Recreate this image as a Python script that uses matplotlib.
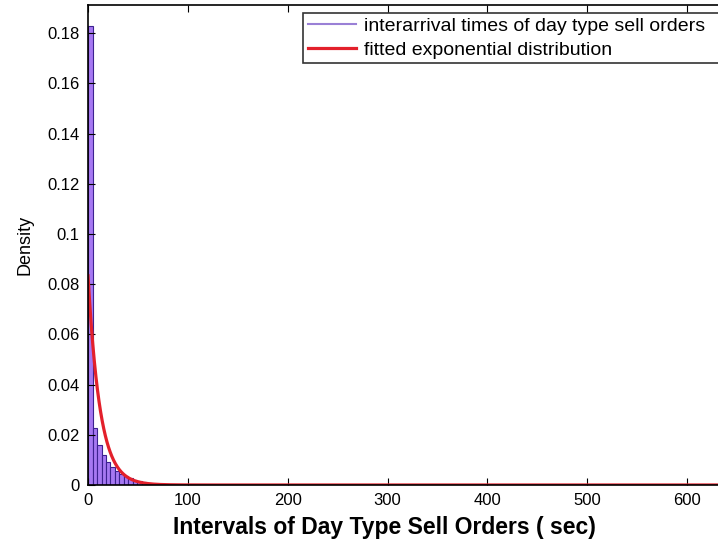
import numpy as np
import matplotlib.pyplot as plt
from matplotlib.lines import Line2D

plt.rcParams['font.family'] = ['Liberation Sans', 'DejaVu Sans']

# histogram of interarrival times (density per bin)
bin_width = 4.5
bin_heights = [0.183, 0.0226, 0.016, 0.012, 0.0093, 0.0072, 0.0056, 0.0044,
               0.0034, 0.0026, 0.0019, 0.0014, 0.0010, 0.0007, 0.0005,
               0.0004, 0.0003, 0.0002, 0.0001]
# fitted exponential: mean interarrival time (sec)
fit_mean = 12.0

xmax = 631
ymax = 0.1912
xticks = [0, 100, 200, 300, 400, 500, 600]
yticks = [0, 0.02, 0.04, 0.06, 0.08, 0.1, 0.12, 0.14, 0.16, 0.18]
ytick_labels = ['0', '0.02', '0.04', '0.06', '0.08', '0.1', '0.12', '0.14', '0.16', '0.18']
legend_labels = ['interarrival times of day type sell orders',
                 'fitted exponential distribution']

fig = plt.figure(figsize=(7.18, 5.49), dpi=100)
ax = fig.add_axes([0.1226, 0.1166, 0.8774, 0.8743])

edges = np.arange(len(bin_heights)) * bin_width
ax.bar(edges, bin_heights, width=bin_width, align='edge',
       facecolor='#a678f2', edgecolor='#3d2290', linewidth=0.8)

xs = np.linspace(0, xmax, 2000)
ax.plot(xs, np.exp(-xs / fit_mean) / fit_mean, color='#e3202b', linewidth=2.3)

ax.set_xlim(0, xmax)
ax.set_ylim(0, ymax)
ax.set_xticks(xticks)
ax.set_yticks(yticks)
ax.set_yticklabels(ytick_labels)
ax.tick_params(direction='in', top=True, length=5, labelsize=12, pad=6)
ax.spines['right'].set_visible(False)
for s in ['left', 'bottom', 'top']:
    ax.spines[s].set_linewidth(1.2)

ax.set_xlabel('Intervals of Day Type Sell Orders ( sec)', fontsize=16.5, fontweight='bold')
ax.xaxis.set_label_coords(0.471, -0.065)
ax.set_ylabel('Density', fontsize=13, labelpad=10)

# legend box runs off the right edge of the figure
handles = [Line2D([], [], color='#9a80d6', linewidth=1.5),
           Line2D([], [], color='#e3202b', linewidth=2.3)]
leg = ax.legend(handles, legend_labels, loc='upper left',
                bbox_to_anchor=(0.422, 0.977, 0.6, 0), mode='expand',
                bbox_transform=fig.transFigure, fontsize=14, frameon=True,
                fancybox=False, borderpad=0.25, labelspacing=0.3,
                handlelength=2.5, handletextpad=0.4, borderaxespad=0)
leg.get_frame().set_edgecolor('black')
leg.get_frame().set_linewidth(1.2)

fig.savefig('out.png', dpi=100)
